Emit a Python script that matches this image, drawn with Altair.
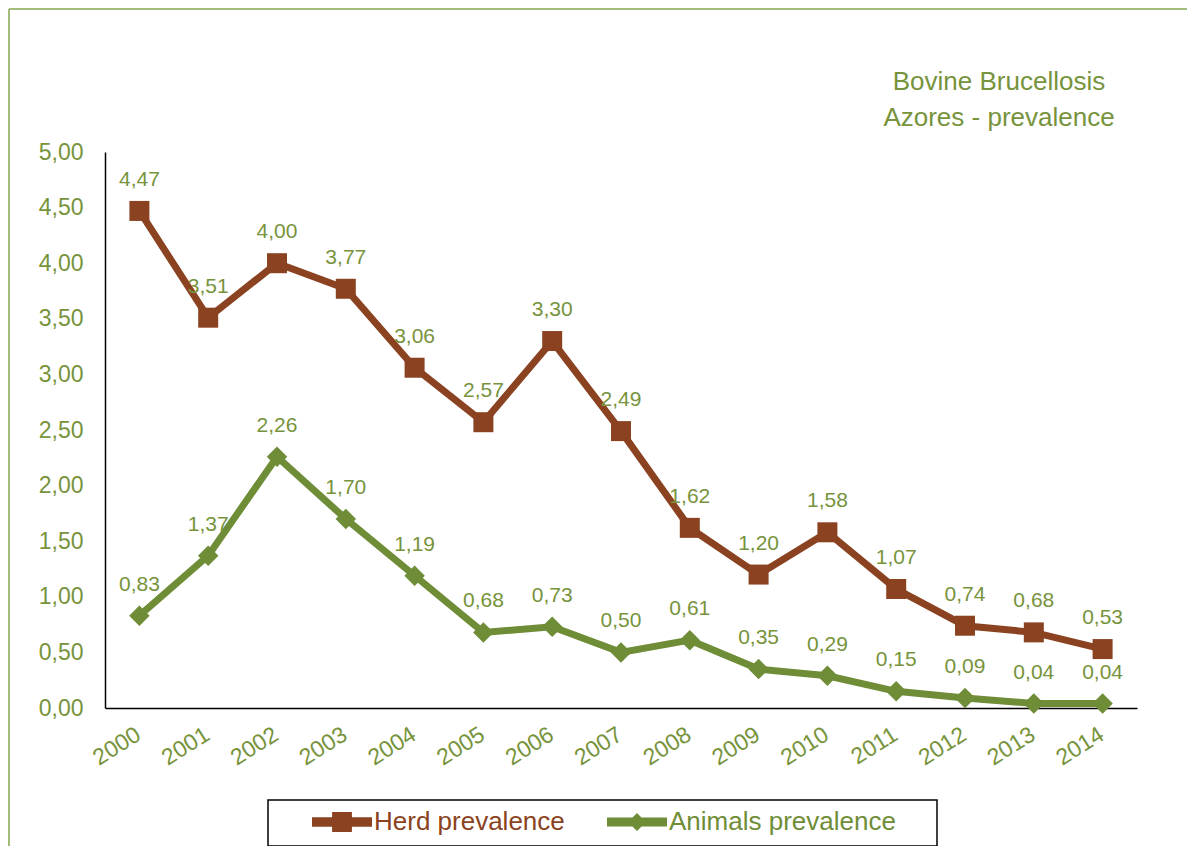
import altair as alt
import pandas as pd

years = [str(y) for y in range(2000, 2015)]
herd = [4.47, 3.51, 4.00, 3.77, 3.06, 2.57, 3.30, 2.49, 1.62, 1.20, 1.58, 1.07, 0.74, 0.68, 0.53]
animals = [0.83, 1.37, 2.26, 1.70, 1.19, 0.68, 0.73, 0.50, 0.61, 0.35, 0.29, 0.15, 0.09, 0.04, 0.04]
series_names = ["Herd prevalence", "Animals prevalence"]
title_lines = ["Bovine Brucellosis", "Azores - prevalence"]
y_ticks = [0, 0.5, 1, 1.5, 2, 2.5, 3, 3.5, 4, 4.5, 5]

BROWN = "#8B4220"
GREEN_LINE = "#6F8D37"
GREEN_TEXT = "#77933C"
BORDER = "#A2BD7A"
FONT = "Liberation Sans"

W, H = 1032, 556

herd_df = pd.DataFrame({"year": years, "value": herd, "series": series_names[0]})
anim_df = pd.DataFrame({"year": years, "value": animals, "series": series_names[1]})
one = pd.DataFrame({"a": [0]})

x_enc = alt.X(
    "year:O",
    title=None,
    scale=alt.Scale(type="point", padding=0.5),
    axis=alt.Axis(
        labelAngle=-32, labelAlign="right", labelBaseline="top", labelPadding=15,
        labelOffset=-7, labelFontSize=23, labelFont=FONT, labelColor=GREEN_TEXT, ticks=False,
        domainColor="#000000", domainWidth=1.5, grid=False,
    ),
)
y_enc = alt.Y(
    "value:Q",
    title=None,
    scale=alt.Scale(domain=[0, 5], nice=False, zero=True),
    axis=alt.Axis(
        values=y_ticks, labelExpr="replace(format(datum.value, '.2f'), '.', ',')",
        labelFontSize=23, labelFont=FONT, labelColor=GREEN_TEXT, ticks=False,
        labelPadding=22, domainColor="#000000", domainWidth=1.5, grid=False,
    ),
)

HERD_PATH = ("M-1,-0.16 L-0.33,-0.16 L-0.33,-0.33 L0.33,-0.33 L0.33,-0.16 L1,-0.16 "
             "L1,0.16 L0.33,0.16 L0.33,0.33 L-0.33,0.33 L-0.33,0.16 L-1,0.16 Z")
ANIM_PATH = ("M-1,-0.15 L-0.15,-0.15 L0,-0.3 L0.15,-0.15 L1,-0.15 L1,0.15 "
             "L0.15,0.15 L0,0.3 L-0.15,0.15 L-1,0.15 Z")


def series_layer(df, name, color, shape, size, path, lx, label_color):
    base = alt.Chart(df).transform_calculate(
        label="replace(format(datum.value, '.2f'), '.', ',')"
    ).encode(x=x_enc, y=y_enc)
    leg = alt.Legend(
        orient="none", legendX=lx, legendY=640, title=None, symbolType=path,
        symbolSize=3600, symbolFillColor=color, symbolStrokeColor=color,
        symbolStrokeWidth=0, symbolOpacity=1, labelColor=label_color, labelFontSize=26,
        labelFont=FONT, labelOffset=2, padding=0, labelLimit=400,
    )
    col = alt.Color("series:N", scale=alt.Scale(domain=[name], range=[color]), legend=leg)
    line = base.mark_line(strokeWidth=7).encode(color=col)
    pts = base.mark_point(shape=shape, filled=True, size=size, opacity=1).encode(color=col)
    txt = base.mark_text(dy=-31, fontSize=21, font=FONT, color=GREEN_TEXT).encode(text="label:N")
    return alt.layer(line, pts, txt)


herd_layer = series_layer(herd_df, series_names[0], BROWN, "square", 400, HERD_PATH, 207, BROWN)
anim_layer = series_layer(anim_df, series_names[1], GREEN_LINE, "diamond", 420, ANIM_PATH, 502, GREEN_LINE)

border_top = alt.Chart(one).mark_rule(color=BORDER, strokeWidth=2).encode(
    x=alt.value(-96), x2=alt.value(1082), y=alt.value(-143)
)
border_left = alt.Chart(one).mark_rule(color=BORDER, strokeWidth=2).encode(
    x=alt.value(-96), y=alt.value(-143), y2=alt.value(694)
)
legend_box = alt.Chart(one).mark_rect(fill="white", stroke="#000000", strokeWidth=1.5).encode(
    x=alt.value(163), x2=alt.value(832), y=alt.value(648), y2=alt.value(694)
)
title1 = alt.Chart(one).mark_text(
    align="center", baseline="middle", fontSize=26, font=FONT, color=GREEN_TEXT
).encode(x=alt.value(894), y=alt.value(-70), text=alt.value(title_lines[0]))
title2 = alt.Chart(one).mark_text(
    align="center", baseline="middle", fontSize=26, font=FONT, color=GREEN_TEXT
).encode(x=alt.value(894), y=alt.value(-34), text=alt.value(title_lines[1]))

chart = alt.layer(
    border_top, border_left, legend_box, title1, title2, herd_layer, anim_layer
).resolve_scale(
    color="independent"
).properties(
    width=W,
    height=H,
    autosize=alt.AutoSizeParams(type="none"),
    padding={"left": 97, "top": 144, "right": 50, "bottom": 138},
    background="white",
).configure_view(stroke=None)

chart.save("out.html", embed_options={"renderer": "svg", "actions": False})
